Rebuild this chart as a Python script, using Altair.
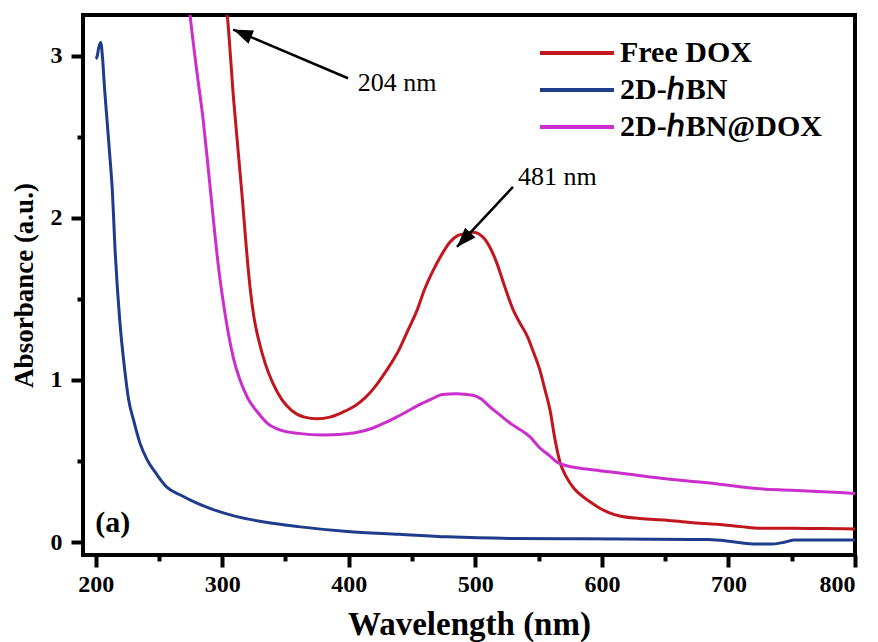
import altair as alt
import pandas as pd

# ---- data ----
free_nm = [298, 304, 309, 316, 319, 322, 325, 329, 334, 340, 347, 355, 365, 375, 385, 395, 405, 413, 421, 430,
           440, 447, 454, 460, 467, 474, 480, 486, 491, 498, 506, 512, 517, 523, 530, 536, 541, 546, 551, 555,
           559, 563, 567, 572, 578, 585, 592, 598, 606, 614, 630, 651, 670, 691, 710, 725, 750, 775, 800]
free_abs = [3.6, 3.25, 2.73, 2.11, 1.82, 1.57, 1.39, 1.24, 1.10, 0.98, 0.88, 0.81, 0.77, 0.76, 0.77, 0.80,
            0.84, 0.89, 0.96, 1.06, 1.19, 1.31, 1.43, 1.56, 1.68, 1.78, 1.85, 1.89, 1.90, 1.91, 1.88, 1.81,
            1.72, 1.58, 1.43, 1.34, 1.27, 1.17, 1.06, 0.94, 0.815, 0.63, 0.49, 0.40, 0.33, 0.28, 0.24, 0.21,
            0.18, 0.16, 0.145, 0.135, 0.12, 0.11, 0.095, 0.085, 0.085, 0.083, 0.08]

hbn_nm = [200, 201, 202.5, 204, 205.5, 207, 209, 211, 213, 215.5, 219, 223, 226, 230, 235, 240.5, 248, 256,
          267, 280, 293, 310, 332, 360, 399, 440, 478, 530, 583, 640, 684, 700, 710, 720, 735, 745, 752, 800]
hbn_abs = [2.98, 2.99, 3.05, 3.08, 2.98, 2.80, 2.60, 2.40, 2.19, 1.78, 1.37, 1.06, 0.88, 0.75, 0.61, 0.51,
           0.42, 0.34, 0.29, 0.24, 0.20, 0.16, 0.125, 0.095, 0.065, 0.048, 0.032, 0.022, 0.02, 0.017, 0.015,
           0.005, -0.005, -0.012, -0.012, 0.0, 0.012, 0.012]

mix_nm = [270, 275, 280, 285, 289, 293, 297, 301, 305, 309, 314, 320, 328, 336, 346, 360, 380, 395, 406, 418,
          427, 435, 445, 454, 465, 474, 485, 498, 505, 512, 520, 528, 536, 543, 551, 559, 565, 572, 583, 598,
          620, 640, 664, 690, 710, 722, 750, 775, 800]
mix_abs = [3.6, 3.22, 2.9, 2.60, 2.3, 1.99, 1.70, 1.47, 1.28, 1.13, 1.0, 0.89, 0.80, 0.73, 0.69, 0.67, 0.66,
           0.665, 0.675, 0.70, 0.73, 0.76, 0.80, 0.84, 0.88, 0.91, 0.915, 0.905, 0.88, 0.83, 0.78, 0.73, 0.69,
           0.65, 0.58, 0.53, 0.49, 0.47, 0.455, 0.44, 0.42, 0.40, 0.38, 0.36, 0.34, 0.33, 0.32, 0.31, 0.30]

series_names = ["Free DOX", "2D-\u210eBN", "2D-\u210eBN@DOX"]
series_colors = ["#C2161E", "#1F3C8C", "#CC2ECC"]

# annotations (data coordinates)
arrow_tail_x = [399.4, 529.8]
arrow_tail_y = [2.86, 2.19]
arrow_tip_x = [308.7, 485.5]
arrow_tip_y = [3.16, 1.82]
arrow_angle = [292.7, 223.0]
label_text = ["204 nm", "481 nm"]
label_x = [407.0, 533.7]
label_y = [2.83, 2.25]

panel_text = ["(a)"]
panel_x = [199.7]
panel_y = [0.12]

# ---- build tables ----
rows = []
for name, xs, ys in [(series_names[0], free_nm, free_abs),
                     (series_names[1], hbn_nm, hbn_abs),
                     (series_names[2], mix_nm, mix_abs)]:
    for i, (a, b) in enumerate(zip(xs, ys)):
        rows.append({"series": name, "nm": a, "abs": b, "order": i})
df = pd.DataFrame(rows)

arrows = pd.DataFrame({"x": arrow_tail_x, "y": arrow_tail_y, "x2": arrow_tip_x, "y2": arrow_tip_y,
                       "angle": arrow_angle})
labels = pd.DataFrame({"x": label_x, "y": label_y, "text": label_text})
panel = pd.DataFrame({"x": panel_x, "y": panel_y, "text": panel_text})

SERIF = "Liberation Serif"
xscale = alt.Scale(domain=[190, 800], nice=False, zero=False)
yscale = alt.Scale(domain=[-0.08, 3.25], nice=False, zero=False)

x_ticks = list(range(200, 801, 50))
y_ticks = [0, 0.5, 1, 1.5, 2, 2.5, 3]

xaxis = alt.Axis(
    title="Wavelength (nm)", values=x_ticks,
    labelExpr="datum.value % 100 === 0 ? format(datum.value, 'd') : ''",
    tickSize={"condition": {"test": "datum.value % 100 === 0", "value": 12}, "value": 6},
    tickWidth=4, tickColor="black", domain=False, grid=False,
    labelFont=SERIF, labelFontWeight="bold", labelFontSize=24, labelColor="black", labelPadding=5,
    titleFont=SERIF, titleFontWeight="bold", titleFontSize=33, titleColor="black", titlePadding=12,
)
yaxis = alt.Axis(
    title="Absorbance (a.u.)", values=y_ticks,
    labelExpr="datum.value % 1 === 0 ? format(datum.value, 'd') : ''",
    tickSize={"condition": {"test": "datum.value % 1 === 0", "value": 12}, "value": 6},
    tickWidth=4, tickColor="black", domain=False, grid=False,
    labelFont=SERIF, labelFontWeight="bold", labelFontSize=24, labelColor="black", labelPadding=9,
    titleFont=SERIF, titleFontWeight="bold", titleFontSize=27, titleColor="black", titlePadding=12,
)

lines = alt.Chart(df).mark_line(strokeWidth=3, clip=True, interpolate="monotone").encode(
    x=alt.X("nm:Q", scale=xscale, axis=xaxis),
    y=alt.Y("abs:Q", scale=yscale, axis=yaxis),
    order="order:Q",
    color=alt.Color("series:N",
                    scale=alt.Scale(domain=series_names, range=series_colors),
                    sort=series_names,
                    legend=alt.Legend(
                        title=None, orient="none", legendX=455, legendY=22,
                        symbolType="stroke", symbolSize=5476, symbolStrokeWidth=4,
                        clipHeight=32, rowPadding=5,
                        labelFont=SERIF, labelFontWeight="bold", labelFontSize=30,
                        labelColor="black", labelOffset=4, labelLimit=400,
                    )),
)

arrow_lines = alt.Chart(arrows).mark_rule(color="black", strokeWidth=2.5).encode(
    x=alt.X("x:Q", scale=xscale), y=alt.Y("y:Q", scale=yscale), x2="x2:Q", y2="y2:Q")

arrow_heads = alt.Chart(arrows).mark_point(
    shape="M0,0L-0.42,1.15L0.42,1.15Z", filled=True, color="black", opacity=1, size=1156
).encode(
    x=alt.X("x2:Q", scale=xscale), y=alt.Y("y2:Q", scale=yscale),
    angle=alt.Angle("angle:Q", scale=None),
)

ann_text = alt.Chart(labels).mark_text(
    font=SERIF, fontSize=26, align="left", baseline="middle", color="black"
).encode(x=alt.X("x:Q", scale=xscale), y=alt.Y("y:Q", scale=yscale), text="text:N")

panel_label = alt.Chart(panel).mark_text(
    font=SERIF, fontSize=30, fontWeight="bold", align="left", baseline="middle", color="black"
).encode(x=alt.X("x:Q", scale=xscale), y=alt.Y("y:Q", scale=yscale), text="text:N")

chart = alt.layer(lines, arrow_lines, arrow_heads, ann_text, panel_label).properties(
    width=772, height=540,
    autosize=alt.AutoSizeParams(type="none"),
    padding={"left": 83, "top": 15, "right": 23, "bottom": 87},
    background="white",
).configure_view(stroke="black", strokeWidth=4)

chart.save("out.html", embed_options={"renderer": "svg", "actions": False})
